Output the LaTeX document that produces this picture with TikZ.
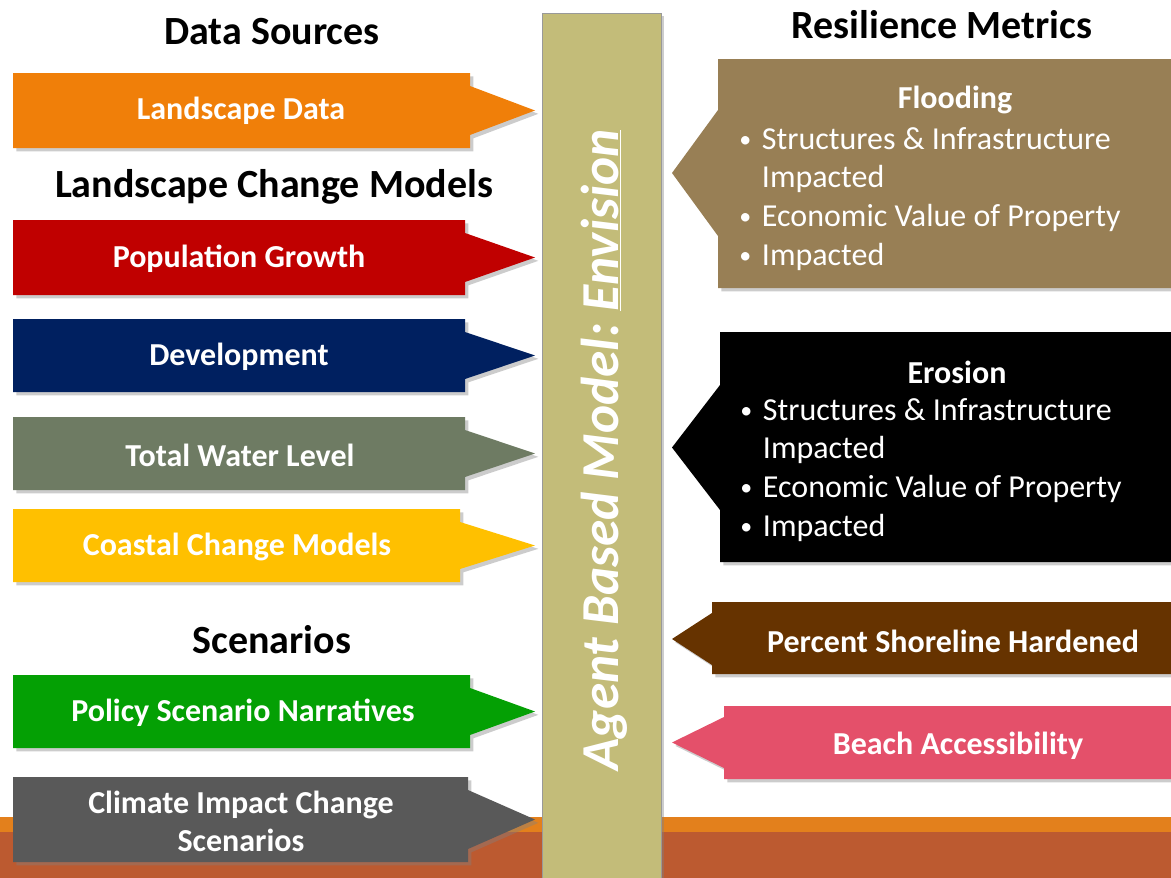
\documentclass[tikz,border=0pt]{standalone}
\usepackage{fontspec}
\usepackage{graphicx}
\setmainfont{Carlito}
\usetikzlibrary{positioning, calc, shadows}

\definecolor{landcol}{HTML}{F07F09}
\definecolor{popcol}{HTML}{C00000}
\definecolor{devcol}{HTML}{002060}
\definecolor{watercol}{HTML}{6E7B63}
\definecolor{coastcol}{HTML}{FFC000}
\definecolor{policycol}{HTML}{04A004}
\definecolor{climcol}{HTML}{595959}
\definecolor{floodcol}{HTML}{987F55}
\definecolor{shorecol}{HTML}{663300}
\definecolor{beachcol}{HTML}{E4506A}
\definecolor{barcol}{HTML}{C3BC79}
\definecolor{stripcol}{HTML}{E3801C}
\definecolor{rustcol}{HTML}{BC5A30}

% input arrows on the left: top, bottom, body end, colour
\newcommand{\srcarrow}[4]{%
  \fill[#4, shade box] (13,#1) -- (#3,#1) -- (#3,#1+13) -- (535,{(#1+#2)/2})
    -- (#3,#2-13) -- (#3,#2) -- (13,#2) -- cycle;}
% metric arrows on the right: top, bottom, body start, head top, head bottom, colour
\newcommand{\metricarrow}[6]{%
  \fill[#6, shade box] (1180,#1) -- (#3,#1) -- (#3,#4) -- (672,{(#4+#5)/2})
    -- (#3,#5) -- (#3,#2) -- (1180,#2) -- cycle;}
\newcommand{\itm}{\makebox[17pt][l]{\raisebox{1.5pt}{\scalebox{0.75}{\textbullet}}}}

\tikzset{
  shade box/.style={drop shadow={opacity=0.4, shadow xshift=2.5pt, shadow yshift=-2.5pt}},
  label text/.style={text=white, font=\bfseries\fontsize{24}{28.5}\selectfont, align=center},
  metric text/.style={text=white, font=\fontsize{24}{29}\selectfont, align=left,
    inner sep=0pt, anchor=north west},
  heading/.style={font=\bfseries\fontsize{30}{34}\selectfont},
}

\begin{document}
\begin{tikzpicture}[x=0.75pt, y=-0.75pt]
  \useasboundingbox (0,0) rectangle (1171,878);
  % footer stripes
  \fill[stripcol] (0,817) rectangle (1171,832);
  \fill[rustcol] (0,832) rectangle (1171,878);

  % model bar in the middle
  \draw[draw=gray!80, fill=barcol, shade box] (542,13) rectangle (661,890);
  \node[rotate=90, text=white, font=\bfseries\itshape\fontsize{40}{44}\selectfont]
    (abm) at (604,450) {Agent Based Model:\ \underline{Envision}};

  % headings
  \node[heading] (datasrc) at (272,32) {Data Sources};
  \node[heading] (lcmodels) at (274,187) {Landscape Change Models};
  \node[heading] (scen) at (272,640) {Scenarios};
  \node[heading] (resil) at (942,25) {Resilience Metrics};

  % inputs
  \srcarrow{73}{148}{470}{landcol}
  \node[label text] (land) at (241,111) {Landscape Data};
  \srcarrow{220}{295}{465}{popcol}
  \node[label text] (pop) at (239,259) {Population Growth};
  \srcarrow{319}{392}{465}{devcol}
  \node[label text] (dev) at (239,357) {Development};
  \srcarrow{417}{490}{465}{watercol}
  \node[label text] (water) at (240,455) {Total Water Level};
  \srcarrow{509}{582}{460}{coastcol}
  \node[label text] (coast) at (237,547) {Coastal Change Models};
  \srcarrow{675}{748}{470}{policycol}
  \node[label text] (policy) at (243,713) {Policy Scenario Narratives};
  \srcarrow{777}{862}{468}{climcol}
  \node[label text] (clim) at (241,821) {Climate Impact Change\\Scenarios};

  % metrics
  \metricarrow{59}{288}{718}{110}{236}{floodcol}
  \node[label text] (flood) at (955,100) {Flooding};
  \node[metric text] (floodlist) at (739,127) {\itm Structures \& Infrastructure\\
    \hspace*{17pt}Impacted\\ \itm Economic Value of Property\\ \itm Impacted};
  \metricarrow{332}{562}{720}{385}{510}{black}
  \node[label text] (eros) at (957,372) {Erosion};
  \node[metric text] (eroslist) at (740,398) {\itm Structures \& Infrastructure\\
    \hspace*{17pt}Impacted\\ \itm Economic Value of Property\\ \itm Impacted};
  \metricarrow{602}{674}{712}{613}{665}{shorecol}
  \node[label text] (shore) at (953,641) {Percent Shoreline Hardened};
  \metricarrow{706}{779}{724}{717}{768}{beachcol}
  \node[label text] (beach) at (958,746) {Beach Accessibility};
\end{tikzpicture}
\end{document}
